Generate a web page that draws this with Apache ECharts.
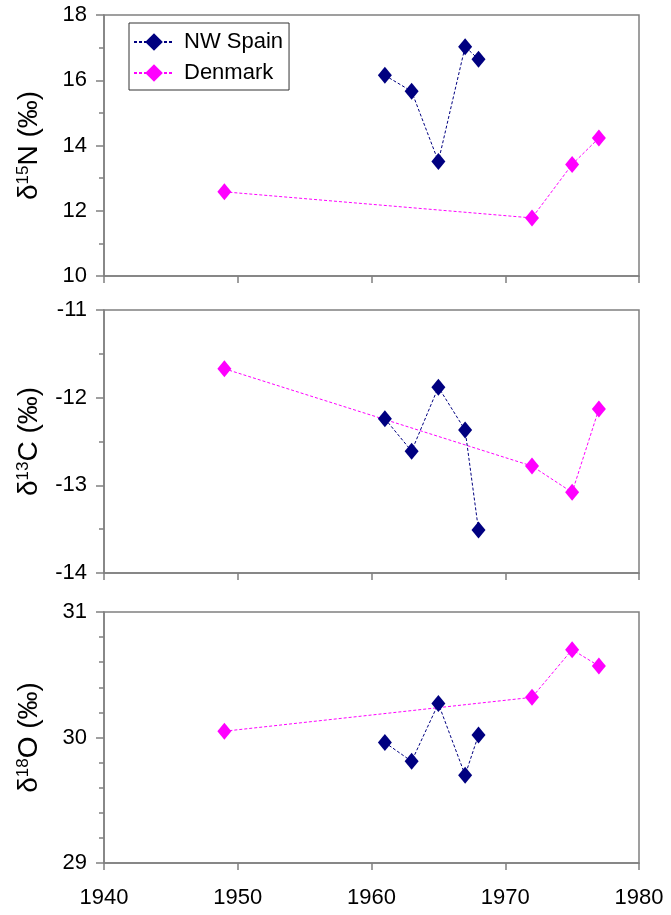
<!DOCTYPE html>
<html><head><meta charset="utf-8">
<script src="https://cdn.jsdelivr.net/npm/echarts@6/dist/echarts.min.js"></script>
<style>html,body{margin:0;padding:0;background:#fff}#c{width:671px;height:915px}</style>
</head><body><div id="c"></div>
<script>
// Data
const spainYears = [1961, 1963, 1965, 1967, 1968];
const denmarkYears = [1949, 1972, 1975, 1977];
const spainN = [16.15, 15.66, 13.51, 17.03, 16.64];
const denmarkN = [12.58, 11.78, 13.42, 14.23];
const spainC = [-12.24, -12.61, -11.88, -12.37, -13.51];
const denmarkC = [-11.67, -12.78, -13.08, -12.13];
const spainO = [29.96, 29.81, 30.27, 29.70, 30.02];
const denmarkO = [30.05, 30.32, 30.70, 30.57];
const xTicks = [1940, 1950, 1960, 1970, 1980];
const seriesNames = ['NW Spain', 'Denmark'];

const pair = (xs, ys) => xs.map((x, i) => [x, ys[i]]);
const font = 'Liberation Sans, Arial, sans-serif';
const grey = '#808080';

const grids = [
  {left: 104, right: 32, top: 15, height: 261},
  {left: 104, right: 32, top: 310, height: 263},
  {left: 104, right: 32, top: 612, height: 251}
].map(g => Object.assign(g, {show: true, borderColor: grey, borderWidth: 1.5, backgroundColor: 'transparent'}));

const xAxes = [0, 1, 2].map(i => ({
  type: 'value', gridIndex: i, min: xTicks[0], max: xTicks[xTicks.length - 1], interval: 10,
  axisLine: {show: true, lineStyle: {color: grey, width: 1.5}},
  axisTick: {show: true, length: 7, lineStyle: {color: grey, width: 1.5}},
  splitLine: {show: false},
  axisLabel: {show: i === 2, color: '#000', fontSize: 22, fontFamily: font, margin: 24,
    formatter: v => String(v)}
}));

function yAxis(i, min, max, interval, minorSplit, nameRich) {
  return {
    type: 'value', gridIndex: i, min: min, max: max, interval: interval,
    axisLine: {show: true, lineStyle: {color: grey, width: 1.5}},
    axisTick: {show: true, length: 8, lineStyle: {color: grey, width: 1.5}},
    minorTick: {show: true, splitNumber: minorSplit, length: 5, lineStyle: {color: grey, width: 1.5}},
    splitLine: {show: false},
    axisLabel: {color: '#000', fontSize: 22, fontFamily: font, margin: 17},
    name: nameRich, nameLocation: 'middle', nameGap: 60,
    nameTextStyle: {
      color: '#000', fontFamily: font,
      rich: {
        a: {fontSize: 28, fontFamily: font, color: '#000'},
        s: {fontSize: 17, fontFamily: font, color: '#000', verticalAlign: 'top', padding: [0, 0, 12, 0]}
      }
    }
  };
}

const yAxes = [
  yAxis(0, 10, 18, 2, 2, '{a|δ}{s|15}{a|N (‰)}'),
  yAxis(1, -14, -11, 1, 2, '{a|δ}{s|13}{a|C (‰)}'),
  yAxis(2, 29, 31, 1, 5, '{a|δ}{s|18}{a|O (‰)}')
];

function ser(name, idx, data, color) {
  return {
    name: name, type: 'line', xAxisIndex: idx, yAxisIndex: idx, data: data,
    symbol: 'diamond', symbolSize: [14, 17],
    itemStyle: {color: color},
    lineStyle: {color: color, width: 1, type: [3, 2]},
    animation: false
  };
}

const series = [
  ser(seriesNames[0], 0, pair(spainYears, spainN), '#000080'),
  ser(seriesNames[1], 0, pair(denmarkYears, denmarkN), '#FF00FF'),
  ser(seriesNames[1], 1, pair(denmarkYears, denmarkC), '#FF00FF'),
  ser(seriesNames[0], 1, pair(spainYears, spainC), '#000080'),
  ser(seriesNames[1], 2, pair(denmarkYears, denmarkO), '#FF00FF'),
  ser(seriesNames[0], 2, pair(spainYears, spainO), '#000080')
];

const chart = echarts.init(document.getElementById('c'), null, {renderer: 'canvas'});
chart.setOption({
  backgroundColor: '#fff',
  animation: false,
  grid: grids,
  xAxis: xAxes,
  yAxis: yAxes,
  legend: {
    data: seriesNames, orient: 'vertical', left: 129, top: 23,
    backgroundColor: '#fff', borderColor: '#333', borderWidth: 1,
    padding: [8, 6, 6, 4], itemGap: 9, itemWidth: 40, itemHeight: 22,
    textStyle: {fontSize: 22, fontFamily: font, color: '#000', padding: [0, 0, 0, 5]}
  },
  series: series
});
</script></body></html>
